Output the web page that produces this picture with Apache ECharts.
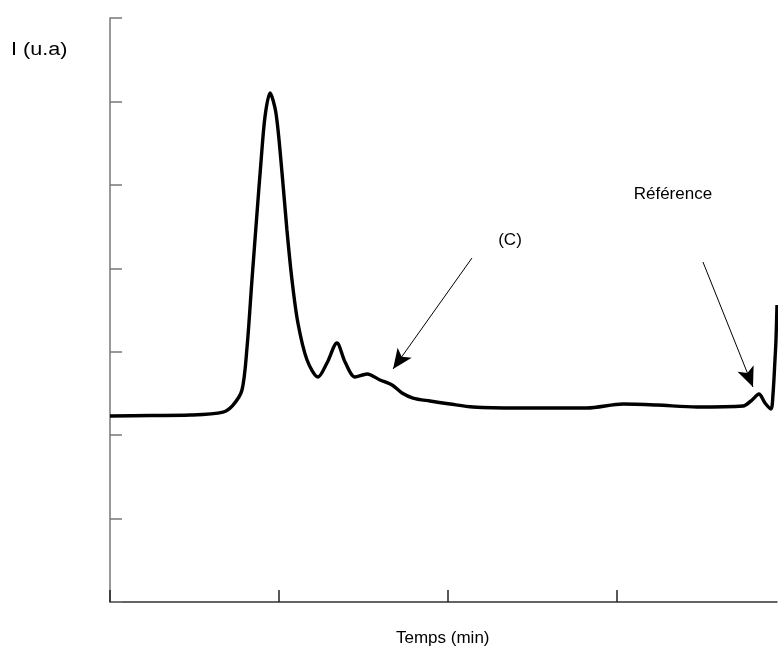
<!DOCTYPE html>
<html>
<head>
<meta charset="utf-8">
<script src="https://cdn.jsdelivr.net/npm/echarts@6/dist/echarts.min.js"></script>
<style>html,body{margin:0;padding:0;background:#fff}#c{width:778px;height:655px}</style>
</head>
<body>
<div id="c"></div>
<script>
// Time values (x, arbitrary min units) and intensity (u.a)
const timeValues = [0, 0.237, 0.473, 0.669, 0.728, 0.781, 0.811, 0.840, 0.870, 0.893, 0.917, 0.947, 0.982, 1.018, 1.047, 1.077, 1.112, 1.166, 1.231, 1.284, 1.343, 1.391, 1.450, 1.521, 1.598, 1.669, 1.728, 1.793, 1.893, 2.012, 2.148, 2.408, 2.822, 3.036, 3.237, 3.473, 3.746, 3.799, 3.840, 3.876, 3.911, 3.923, 3.935, 3.941, 3.947];
const intensity  = [2.229, 2.235, 2.241, 2.277, 2.361, 2.541, 3.056, 3.859, 4.663, 5.262, 5.813, 6.101, 5.861, 5.142, 4.459, 3.859, 3.344, 2.901, 2.697, 2.865, 3.104, 2.877, 2.697, 2.733, 2.661, 2.601, 2.505, 2.445, 2.409, 2.373, 2.337, 2.325, 2.325, 2.373, 2.361, 2.337, 2.349, 2.421, 2.493, 2.385, 2.313, 2.481, 2.901, 3.140, 3.560];
const xTicks = [0, 1, 2, 3];
const yTicks = [0, 1, 2, 3, 4, 5, 6, 7];
// Annotations
const annotLabels = ['(C)', 'Référence'];
const annotLabelPos = [[2.367, 4.339], [3.331, 4.890]];
const arrowStarts = [[2.142, 4.123], [3.509, 4.075]];
const arrowTips = [[1.675, 2.793], [3.805, 2.577]];

const chart = echarts.init(document.getElementById('c'));
const F = 'Liberation Sans, Arial, sans-serif';
chart.setOption({
  animation: false,
  backgroundColor: '#fff',
  grid: { left: 110, right: 1, top: 18, bottom: 53 },
  xAxis: {
    type: 'value', min: xTicks[0], max: 3.947, interval: 1,
    axisLine: { show: true, lineStyle: { color: '#333', width: 1.5 } },
    axisTick: { show: true, inside: true, length: 12, customValues: xTicks, lineStyle: { color: '#222', width: 1.5 } },
    axisLabel: { show: false },
    splitLine: { show: false }
  },
  yAxis: {
    type: 'value', min: yTicks[0], max: yTicks[yTicks.length - 1], interval: 1,
    axisLine: { show: true, lineStyle: { color: '#777', width: 1.5 } },
    axisTick: { show: true, inside: true, length: 12, lineStyle: { color: '#777', width: 1.5 } },
    axisLabel: { show: false },
    splitLine: { show: false }
  },
  graphic: [
    { type: 'text', left: 11, top: 41, scaleX: 1.2, style: { text: 'I (u.a)', fontSize: 18, fontFamily: F, fill: '#000' } },
    { type: 'text', left: 396, top: 630, style: { text: 'Temps (min)', fontSize: 17, fontFamily: F, fill: '#000' } }
  ],
  series: [{
    type: 'line',
    data: timeValues.map((t, i) => [t, intensity[i]]),
    smooth: 0.3,
    symbol: 'none',
    clip: false,
    lineStyle: { color: '#000', width: 3.4 },
    markLine: {
      silent: true,
      symbol: ['none', 'arrow'],
      symbolSize: [13, 20],
      label: { show: false },
      lineStyle: { color: '#000', width: 1, type: 'solid' },
      data: arrowStarts.map((s, i) => [{ coord: s }, { coord: arrowTips[i] }])
    },
    markPoint: {
      silent: true,
      symbol: 'circle', symbolSize: 1,
      itemStyle: { color: 'rgba(0,0,0,0)' },
      label: { show: true, position: 'inside', color: '#000', fontSize: 17, fontFamily: F },
      data: annotLabels.map((l, i) => ({ coord: annotLabelPos[i], value: l, label: { formatter: l } }))
    }
  }]
});
</script>
</body>
</html>
